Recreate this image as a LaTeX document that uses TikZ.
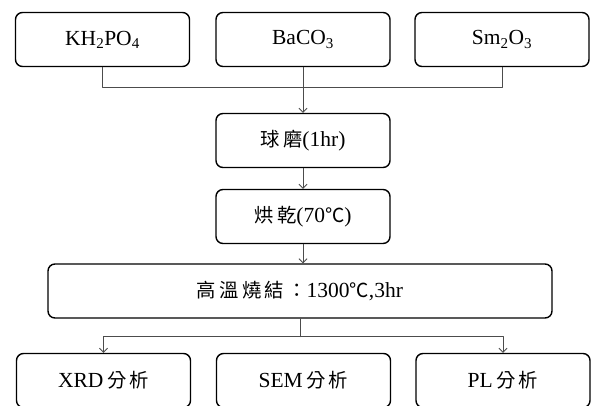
\documentclass[tikz,border=0pt]{standalone}
\usepackage{fontspec}
\setmainfont{Liberation Serif}
\newfontfamily\cjk[Scale=0.9]{Noto Sans CJK TC}
\usetikzlibrary{arrows.meta}
\begin{document}
\begin{tikzpicture}[x=1pt,y=-1pt,line cap=round,line join=round]
  \tikzset{stepbox/.style={draw,rounded corners=7pt,line width=1.4pt,minimum width=174pt,minimum height=54pt,inner sep=0pt,font=\fontsize{21.5}{24}\selectfont}}
  \tikzset{link/.style={line width=.8pt,draw=black!70},feed/.style={link,-{Straight Barb[length=4pt,width=8pt]}}}
  \useasboundingbox (0,0) rectangle (592,405);
  \clip (0,0) rectangle (592,405);
  \node[stepbox] (kh) at (102.5,39.5) {KH\textsubscript{2}PO\textsubscript{4}};
  \node[stepbox] (ba) at (303,39.5) {BaCO\textsubscript{3}};
  \node[stepbox] (sm) at (502,39.5) {Sm\textsubscript{2}O\textsubscript{3}};
  \node[stepbox] (mill) at (303,140.5) {{\cjk 球\,磨}(1hr)};
  \node[stepbox] (dry) at (303,216.5) {{\cjk 烘\,乾}(70{\cjk ℃})};
  \node[stepbox,minimum width=504pt] (sinter) at (300,291) {{\cjk 高\,溫\,燒\,結\,：}1300{\cjk ℃},3hr};
  \node[stepbox] (xrd) at (103.5,380.5) {XRD\,{\cjk 分\,析}};
  \node[stepbox] (sem) at (303.5,380.5) {SEM\,{\cjk 分\,析}};
  \node[stepbox] (pl) at (503,380.5) {PL\,{\cjk 分\,析}};
  \draw[link] (kh.south) -- ++(0,20) -| (sm.south);
  \draw[feed] (ba.south) -- (mill.north);
  \draw[feed] (mill.south) -- (dry.north);
  \draw[feed] (dry.south) -- (dry.south |- sinter.north);
  \draw[link] (sinter.south) -- ++(0,18) coordinate (fork);
  \draw[feed] (fork) -| (xrd.north);
  \draw[feed] (fork) -| (pl.north);
\end{tikzpicture}
\end{document}
